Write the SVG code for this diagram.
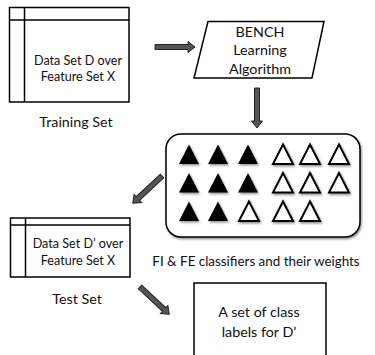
<svg xmlns="http://www.w3.org/2000/svg" width="375" height="355" viewBox="0 0 375 355">
<style>
text{font-family:Lato,"Liberation Sans",sans-serif;fill:#111;text-anchor:middle}
.t13{font-size:14.3px}
.t12{font-size:13.4px}
.t11{font-size:12.6px}
.box{fill:#fff;stroke:#000;stroke-width:1.5}
.ln{stroke:#000;stroke-width:1.5;fill:none}
.tb{fill:#000}
.tw{fill:#fff;stroke:#000;stroke-width:2}
.arr{fill:#555;stroke:#222;stroke-width:1}
</style>
<defs>
<filter id="sh" x="-20%" y="-20%" width="140%" height="140%">
<feDropShadow dx="1" dy="1.5" stdDeviation="1.2" flood-color="#000" flood-opacity="0.45"/>
</filter>
<path id="arr" d="M0,-2.5 H33 V-5.5 L40,0 L33,5.5 V2.5 H0 Z"/>
<path id="tri" d="M0,-10 L10,9.5 L-10,9.5 Z"/>
</defs>
<rect width="375" height="355" fill="#fff"/>

<g id="training">
<rect class="box" x="9.5" y="7.5" width="119.5" height="94.5"/>
<line class="ln" x1="9.5" y1="20" x2="129" y2="20"/>
<line class="ln" x1="24.5" y1="7.5" x2="24.5" y2="102"/>
<text class="t11" x="78" y="65">Data Set D over</text>
<text class="t11" x="78" y="81">Feature Set X</text>
<text class="t13" x="76" y="127">Training Set</text>
</g>

<g id="bench">
<polygon class="box" points="208,21.5 324,21.5 312,78 194,78"/>
<text class="t13" x="260" y="37">BENCH</text>
<text class="t13" x="260" y="55">Learning</text>
<text class="t13" x="260" y="74">Algorithm</text>
</g>

<g id="classifiers">
<rect class="box" x="166" y="134" width="194" height="103" rx="15" filter="url(#sh)"/>
<g filter="url(#sh)">
<use href="#tri" class="tb" x="189" y="154.5"/>
<use href="#tri" class="tb" x="218" y="154.5"/>
<use href="#tri" class="tb" x="248" y="154.5"/>
<use href="#tri" class="tw" x="283" y="154.5"/>
<use href="#tri" class="tw" x="310" y="154.5"/>
<use href="#tri" class="tw" x="339" y="154.5"/>
<use href="#tri" class="tb" x="189" y="183"/>
<use href="#tri" class="tb" x="218" y="183"/>
<use href="#tri" class="tb" x="248" y="183"/>
<use href="#tri" class="tw" x="283" y="183"/>
<use href="#tri" class="tw" x="310" y="183"/>
<use href="#tri" class="tw" x="339" y="183"/>
<use href="#tri" class="tb" x="189" y="211.5"/>
<use href="#tri" class="tb" x="218" y="211.5"/>
<use href="#tri" class="tw" x="249" y="211.5"/>
<use href="#tri" class="tw" x="283" y="211.5"/>
<use href="#tri" class="tw" x="310" y="211.5"/>
</g>
<text class="t12" x="256" y="266">FI &amp; FE classifiers and their weights</text>
</g>

<g id="test">
<rect class="box" x="10.5" y="218" width="119.5" height="59"/>
<line class="ln" x1="10.5" y1="225" x2="130" y2="225"/>
<line class="ln" x1="25.5" y1="218" x2="25.5" y2="277"/>
<text class="t11" x="78" y="248">Data Set D’ over</text>
<text class="t11" x="78" y="265">Feature Set X</text>
<text class="t13" x="77" y="304">Test Set</text>
</g>

<g id="labels">
<rect class="box" x="194" y="283" width="132" height="80"/>
<text class="t13" x="259" y="317">A set of class</text>
<text class="t13" x="259" y="337">labels for D’</text>
</g>

<g id="connectors">
<use href="#arr" class="arr" transform="translate(155,47)"/>
<use href="#arr" class="arr" transform="translate(257,88) rotate(90)"/>
<use href="#arr" class="arr" transform="translate(162,176) rotate(137)"/>
<use href="#arr" class="arr" transform="translate(140,287) rotate(43)"/>
</g>
</svg>
